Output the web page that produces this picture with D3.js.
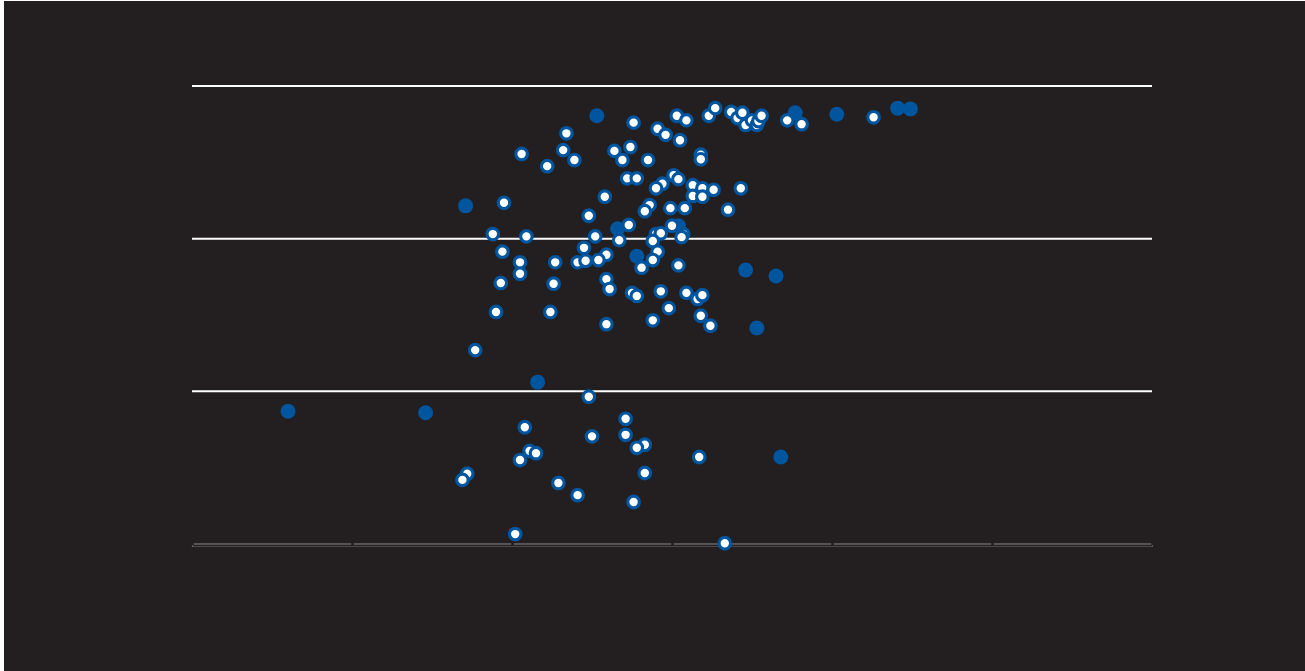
<!DOCTYPE html>
<html>
<head>
<meta charset="utf-8">
<script src="https://cdn.jsdelivr.net/npm/d3@7"></script>
<style>
  html, body { margin: 0; padding: 0; background: #ffffff; }
  svg { display: block; }
</style>
</head>
<body>
<svg id="chart" width="1305" height="671"></svg>
<script>
// ---- data (x: 0–60, y: 0–60) ----
const xTicks = [0, 10, 20, 30, 40, 50, 60];
const yTicks = [0, 20, 40, 60];

// solid (filled) markers
const solidX = [25.3, 17.1, 26.6, 27.8, 30.4, 34.6, 36.5, 35.3, 21.6, 6.0, 14.6, 36.8, 37.7, 40.3, 44.1, 44.9];
const solidY = [56.1, 44.3, 41.3, 37.7, 41.7, 35.9, 35.1, 28.3, 21.2, 17.4, 17.2, 11.4, 56.5, 56.3, 57.1, 57.0];

// hollow (open) markers
const openX = [23.4, 20.6, 23.2, 23.9, 22.2, 27.6, 30.3, 30.9, 29.1, 29.6, 30.5, 32.3, 32.7, 33.7, 34.1, 34.4,
  34.6, 35.0, 35.3, 35.4, 35.6, 37.2, 38.1, 42.6, 26.4, 27.4, 26.9, 28.5, 31.8, 31.8, 27.2, 27.8,
  30.1, 30.4, 29.4, 29.0, 31.3, 31.9, 32.6, 31.3, 31.9, 34.3, 25.8, 19.5, 28.6, 28.3, 29.9, 30.8,
  33.5, 24.8, 27.3, 30.0, 18.8, 20.9, 25.2, 26.7, 29.0, 29.3, 28.8, 30.7, 30.6, 24.5, 19.4, 25.9,
  29.1, 20.5, 22.7, 24.1, 24.6, 25.4, 28.8, 28.1, 30.4, 20.5, 25.9, 19.3, 22.6, 26.1, 27.5, 27.8,
  29.3, 30.9, 31.6, 31.9, 29.8, 19.0, 22.4, 31.8, 28.8, 25.9, 32.4, 17.7,
  24.8, 27.1, 20.8, 25.0, 27.1, 28.3, 27.8, 21.1, 21.5, 20.5, 31.7, 28.3, 17.2, 16.9, 22.9, 24.1,
  27.6, 20.2, 33.3];
const openY = [53.8, 51.1, 51.6, 50.3, 49.5, 55.2, 56.1, 55.5, 54.4, 53.6, 52.9, 56.1, 57.1, 56.6, 55.8, 56.5,
  54.9, 55.5, 54.9, 55.4, 56.1, 55.5, 55.0, 55.9, 51.5, 52.0, 50.3, 50.3, 51.0, 50.4, 47.9, 47.9,
  48.3, 47.8, 47.2, 46.6, 47.0, 46.6, 46.4, 45.6, 45.5, 46.6, 45.5, 44.7, 44.4, 43.6, 44.0, 44.0,
  43.8, 43.0, 41.8, 41.7, 40.6, 40.3, 40.3, 39.8, 40.6, 40.7, 39.7, 40.6, 40.2, 38.8, 38.3, 37.9,
  38.3, 36.9, 36.9, 36.9, 37.1, 37.2, 37.2, 36.2, 36.5, 35.4, 34.7, 34.2, 34.1, 33.4, 32.9, 32.5,
  33.1, 32.9, 32.1, 32.6, 30.9, 30.4, 30.4, 29.9, 29.3, 28.8, 28.6, 25.4,
  19.3, 16.4, 15.3, 14.1, 14.3, 13.0, 12.6, 12.2, 11.9, 11.0, 11.4, 9.3, 9.2, 8.4, 8.0, 6.4,
  5.5, 1.3, 0.1];

// ---- layout ----
const W = 1305, H = 671;
const margin = { left: 192, right: 153, top: 86, bottom: 127 };
const svg = d3.select("#chart");

svg.append("rect")
  .attr("x", 4).attr("y", 1)
  .attr("width", W - 4).attr("height", H - 1)
  .attr("fill", "#231f20");

const x = d3.scaleLinear().domain([0, 60]).range([margin.left, W - margin.right]);
const y = d3.scaleLinear().domain([0, 60]).range([H - margin.bottom, margin.top]);

// horizontal gridlines (white)
svg.append("g")
  .selectAll("line")
  .data(yTicks.filter(d => d > 0))
  .join("line")
  .attr("x1", x(0)).attr("x2", x(60))
  .attr("y1", d => y(d)).attr("y2", d => y(d))
  .attr("stroke", "#ffffff")
  .attr("stroke-width", 2);

// x axis
svg.append("line")
  .attr("x1", x(0)).attr("x2", x(60))
  .attr("y1", y(0) + 2.5).attr("y2", y(0) + 2.5)
  .attr("stroke", "#4d4a4b").attr("stroke-width", 1);

const xAxis = svg.append("g")
  .attr("transform", `translate(0,${y(0) - 0.5})`)
  .call(d3.axisBottom(x).tickValues(xTicks).tickSize(3).tickFormat(""));
xAxis.select(".domain").attr("stroke", "#8c8a8b").attr("stroke-width", 1.2);
xAxis.selectAll(".tick line")
  .attr("stroke", "#231f20").attr("stroke-width", 2.5)
  .attr("y1", -2).attr("y2", 2);

// solid markers
svg.append("g")
  .selectAll("circle")
  .data(d3.range(solidX.length))
  .join("circle")
  .attr("cx", i => x(solidX[i]))
  .attr("cy", i => y(solidY[i]))
  .attr("r", 7.5)
  .attr("fill", "#00559f");

// hollow markers
svg.append("g")
  .selectAll("circle")
  .data(d3.range(openX.length))
  .join("circle")
  .attr("cx", i => x(openX[i]))
  .attr("cy", i => y(openY[i]))
  .attr("r", 5.8)
  .attr("fill", "#ffffff")
  .attr("stroke", "#00559f")
  .attr("stroke-width", 3.2);
</script>
</body>
</html>
